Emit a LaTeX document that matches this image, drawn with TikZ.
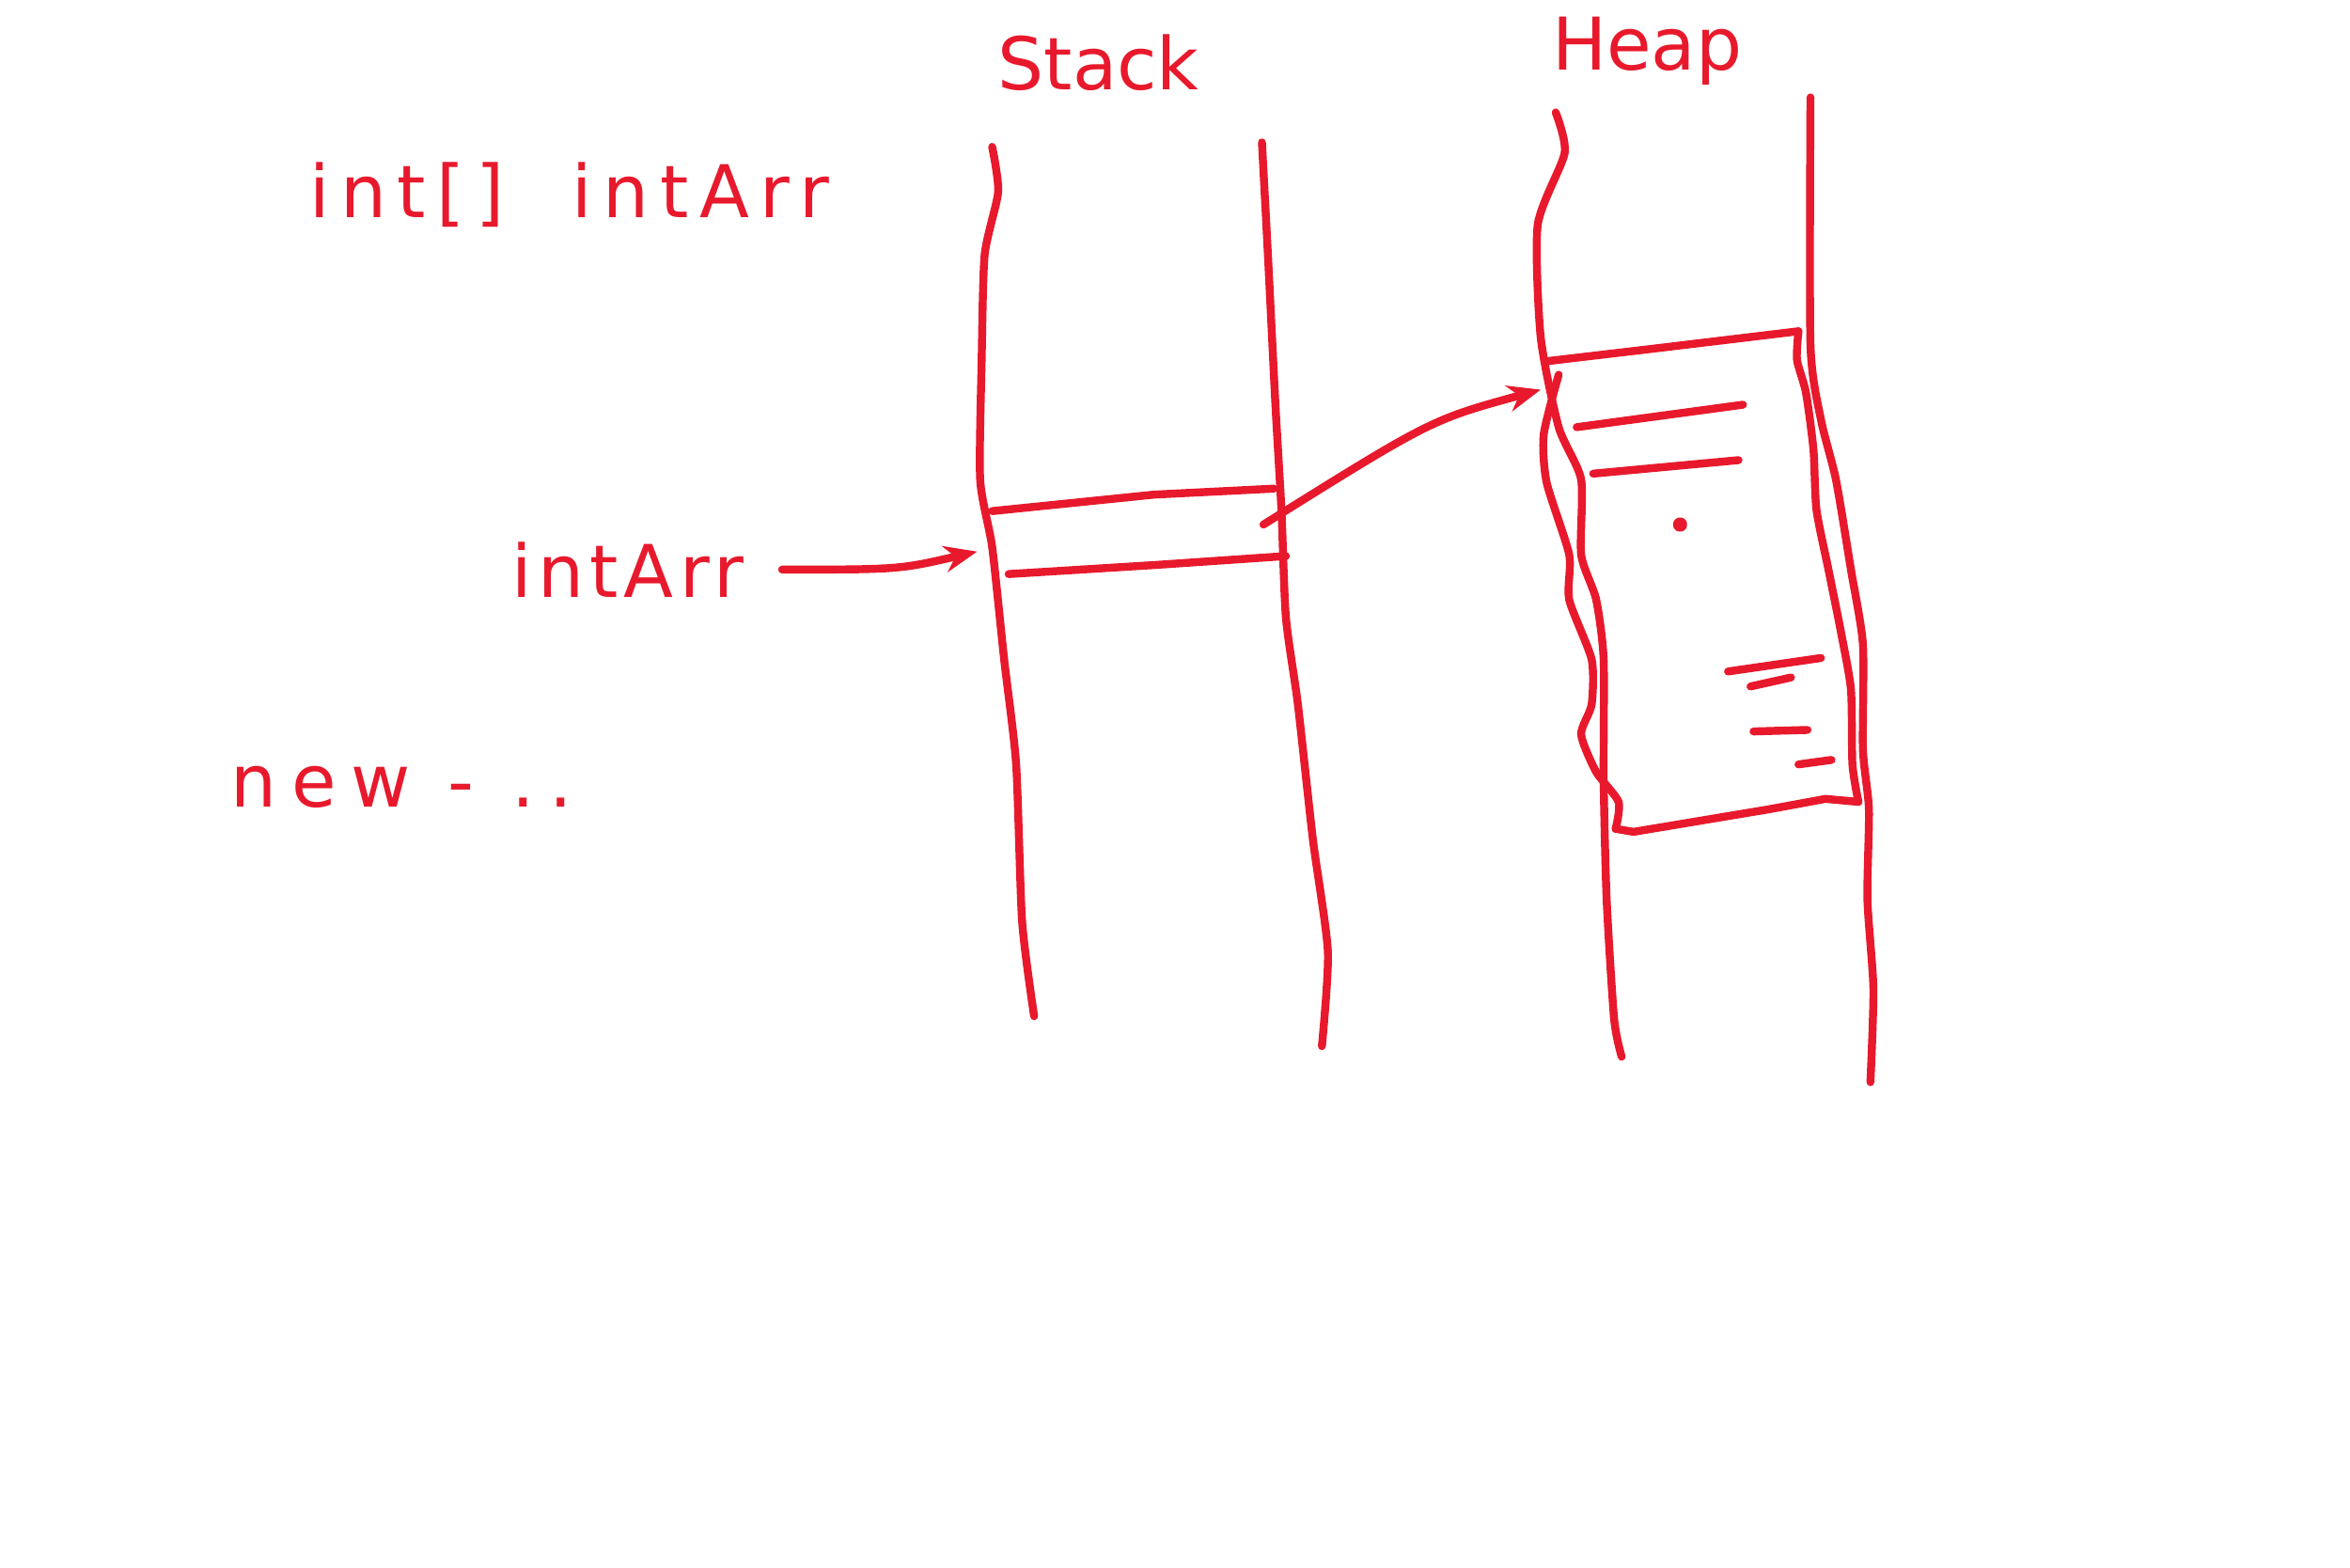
\documentclass[tikz,border=0pt]{standalone}
\usepackage{fontspec}
\setsansfont{DejaVu Sans}
\usetikzlibrary{arrows.meta}
\definecolor{pen}{HTML}{E8192C}

\begin{document}
\begin{tikzpicture}[x=0.015944cm,y=-0.015944cm,
                    pen/.style={draw=pen,line width=2.4pt,line cap=round,line join=round},
                    word/.style={text=pen,font=\sffamily\fontsize{22}{26}\selectfont},
                    >={Stealth[length=10pt,width=8pt]}]

  \useasboundingbox (0,0) rectangle (1568,1046);

  % labels
  \node[word] (stack)  at (733,42)  {Stack};
  \node[word] (heap)   at (1099,34) {Heap};
  \node[word] (decl)   at (380,130) {\addfontfeature{LetterSpace=15}int[]\ \ intArr};
  \node[word] (var)    at (419,380) {\addfontfeature{LetterSpace=8}intArr};
  \node[word] (alloc)  at (268,525) {\addfontfeature{LetterSpace=20}new - ..};

  % stack column
  \draw[pen] plot[smooth,tension=0.4] coordinates {(662,98) (666,128) (657,170) (655,240) (654,320) (662,365) (670,440) (678,510) (682,615) (690,678)};
  \draw[pen] plot[smooth,tension=0.4] coordinates {(842,95) (846,170) (851,270) (855,340) (858,412) (866,470) (876,560) (886,635) (882,698)};
  \draw[pen] (662,341) -- (770,330) -- (850,326);
  \draw[pen] (673,383) -- (770,377) -- (858,371);

  % heap column
  \draw[pen] plot[smooth,tension=0.4] coordinates {(1038,75) (1044,102) (1026,150) (1028,225) (1040,285) (1055,320) (1055,370) (1065,400) (1070,440) (1070,520) (1072,600) (1077,680) (1082,705)};
  \draw[pen] plot[smooth,tension=0.4] coordinates {(1208,65) (1208,230) (1215,280) (1225,320) (1235,380) (1243,430) (1243,500) (1247,540) (1246,600) (1250,660) (1248,722)};

  % array block on the heap
  \draw[pen] plot[smooth,tension=0.4] coordinates {(1040,250) (1030,290) (1032,322) (1047,370) (1047,400) (1062,440) (1062,470) (1055,490) (1065,515) (1080,535) (1078,553)};
  \draw[pen] (1032,241) -- (1100,233) -- (1200,221);
  \draw[pen] plot[smooth,tension=0.4] coordinates {(1200,221) (1199,240) (1205,262) (1210,300) (1212,340) (1220,380) (1228,420) (1235,460) (1236,510) (1240,535)};
  \draw[pen] (1240,535) -- (1218,533) -- (1180,540) -- (1090,555) -- (1078,553);
  \draw[pen] (1052,285) -- (1163,270);
  \draw[pen] (1063,316) -- (1160,307);
  \fill[pen] (1121,350) circle (1pt);
  \draw[pen] (1153,448) -- (1215,439);
  \draw[pen] (1168,458) -- (1195,452);
  \draw[pen] (1170,488) -- (1206,487);
  \draw[pen] (1200,510) -- (1222,507);

  % references
  \coordinate (cell) at (652,368);
  \coordinate (cellout) at (843,350);
  \coordinate (block) at (1028,260);
  \draw[pen,->] ([xshift=8pt]var.east) .. controls (600,380) .. (cell);
  \draw[pen,->] (cellout) .. controls (955,280) .. (block);
\end{tikzpicture}
\end{document}
